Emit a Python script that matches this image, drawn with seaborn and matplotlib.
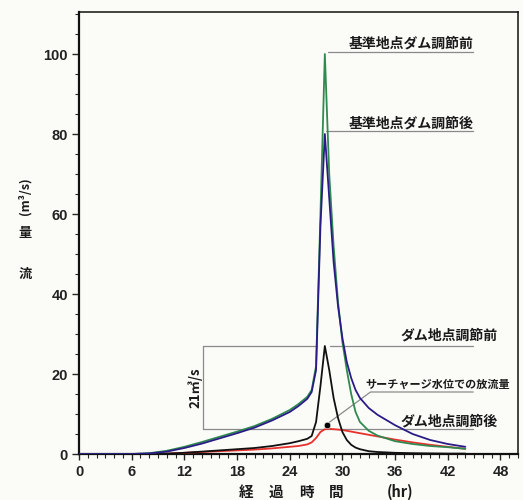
import matplotlib
matplotlib.use("Agg")
import matplotlib.pyplot as plt
import seaborn as sns
import pandas as pd
import numpy as np

# ---- data ----
hours = [0, 6, 8, 10, 12, 14, 16, 18, 20, 22, 24, 25, 26, 26.5, 27, 27.5, 28,
         28.5, 29, 29.5, 30, 30.5, 31, 31.5, 32, 33, 34, 36, 38, 40, 42, 44]

base_before = [0, 0, 0.2, 0.8, 1.8, 3.0, 4.3, 5.6, 7.0, 8.8, 11.0, 12.5, 14.3, 16, 22, 60, 100,
               70, 52, 38, 28, 21, 15, 10.5, 8.0, 5.8, 4.6, 3.2, 2.5, 2.0, 1.7, 1.3]
base_after = [0, 0, 0.15, 0.6, 1.5, 2.6, 3.9, 5.2, 6.6, 8.4, 10.5, 12.0, 13.8, 15.5, 21, 57, 80,
              64, 48, 37, 29, 23, 19, 16, 14, 11.5, 9.8, 7.2, 5.0, 3.5, 2.5, 1.8]
dam_before = [0, 0, 0, 0.1, 0.3, 0.6, 0.9, 1.2, 1.5, 2.0, 2.7, 3.2, 3.8, 4.5, 8, 17, 27,
              21, 14, 9, 5.5, 3.5, 2.3, 1.6, 1.2, 0.7, 0.5, 0.3, 0.2, 0.15, 0.1, 0.1]
dam_after = [0, 0, 0, 0.1, 0.3, 0.5, 0.7, 0.9, 1.1, 1.4, 1.8, 2.0, 2.4, 2.9, 4.0, 5.5, 6.2,
             6.3, 6.2, 6.1, 6.0, 5.8, 5.6, 5.4, 5.2, 4.8, 4.4, 3.6, 2.9, 2.3, 1.8, 1.3]

series_names = ["ダム地点調節後", "ダム地点調節前", "基準地点ダム調節前", "基準地点ダム調節後"]
series_values = [dam_after, dam_before, base_before, base_after]
series_colors = ["#e8302c", "#111111", "#2f8a4f", "#2a1c86"]

surcharge_time = [28.2]
surcharge_flow = [7.3]

x_ticks = [0, 6, 12, 18, 24, 30, 36, 42, 48]
y_ticks = [0, 20, 40, 60, 80, 100]

# ---- figure ----
sns.set_theme(style="white")
cjk = ["Noto Sans CJK JP", "DejaVu Sans"]
plt.rcParams["font.family"] = cjk

W, H = 523, 500
fig = plt.figure(figsize=(W / 100, H / 100), dpi=100)
fig.patch.set_facecolor("#fbfbf8")
ax = fig.add_axes([79 / W, 1 - 454 / H, (518 - 79) / W, (454 - 12) / H])
ax.set_facecolor("#fbfbf8")

rows = []
for name, vals in zip(series_names, series_values):
    for t, q in zip(hours, vals):
        rows.append({"time": t, "flow": q, "series": name})
df = pd.DataFrame(rows)

sns.lineplot(data=df, x="time", y="flow", hue="series", hue_order=series_names,
             palette=dict(zip(series_names, series_colors)), estimator=None,
             sort=False, linewidth=1.3, legend=False, ax=ax, zorder=3)

sns.scatterplot(x=surcharge_time, y=surcharge_flow, color="black", s=22, ax=ax,
                zorder=4, legend=False)

ax.set_xlim(0, 50)
ax.set_ylim(0, 110.5)
ax.set_xticks(x_ticks)
ax.set_xticks(np.arange(0, 51, 1), minor=True)
ax.set_yticks(y_ticks)
ax.set_yticks(np.arange(0, 111, 5), minor=True)
ax.tick_params(axis="y", which="major", direction="out", length=5, width=1, left=True, pad=3)
ax.tick_params(axis="y", which="minor", direction="out", length=3, width=0.8, left=True)
ax.tick_params(axis="x", which="major", direction="out", length=4, width=1, bottom=True, pad=4)
ax.tick_params(axis="x", which="minor", direction="out", length=3, width=0.8, bottom=True)
for lab in ax.get_xticklabels() + ax.get_yticklabels():
    lab.set_fontfamily(["Liberation Sans", "DejaVu Sans"])
    lab.set_fontweight("bold")
    lab.set_fontsize(10.5)
    lab.set_color("#222222")
ax.set_xlabel("")
ax.set_ylabel("")
for side, sp in ax.spines.items():
    sp.set_color("#111111")
    sp.set_linewidth(1.6 if side in ("left", "bottom") else 1.1)

# ---- annotation lines ----
gray = "#8a8a8a"
lw = 0.9
ax.plot([28.4, 44.9], [100.5, 100.5], color=gray, lw=lw, zorder=2)
ax.plot([28.1, 44.9], [80.7, 80.7], color=gray, lw=lw, zorder=2)
ax.plot([14.1, 27.1], [27, 27], color=gray, lw=lw, zorder=2)
ax.plot([28.6, 44.9], [27, 27], color=gray, lw=lw, zorder=2)
ax.plot([14.1, 44.9], [6.2, 6.2], color=gray, lw=lw, zorder=2)
ax.plot([14.1, 14.1], [6.2, 27], color=gray, lw=lw, zorder=2)
ax.plot([28.5, 33.2, 44.9], [7.9, 15.5, 15.5], color=gray, lw=lw, zorder=2)

tkw = dict(fontweight="bold", color="#1a1a1a", family=cjk)
ax.text(44.9, 102.7, "基準地点ダム調節前", ha="right", va="center", fontsize=10, **tkw)
ax.text(44.9, 82.7, "基準地点ダム調節後", ha="right", va="center", fontsize=10, **tkw)
ax.text(47.7, 29.6, "ダム地点調節前", ha="right", va="center", fontsize=10, **tkw)
ax.text(49.1, 17.4, "サーチャージ水位での放流量", ha="right", va="center", fontsize=8, **tkw)
ax.text(47.7, 8.1, "ダム地点調節後", ha="right", va="center", fontsize=10, **tkw)
ax.text(13.2, 16.6, "21㎥/s", ha="center", va="center", rotation=90, fontsize=9.5, **tkw)

# ---- axis titles ----
fig.text(25 / W, 1 - 274 / H, "流", ha="center", va="center", fontsize=9.5, **tkw)
fig.text(25 / W, 1 - 233 / H, "量", ha="center", va="center", fontsize=9.5, **tkw)
fig.text(25 / W, 1 - 196 / H, "(m³/s)", ha="center", va="center", rotation=90, fontsize=9, **tkw)
for ch, xp in zip(["経", "過", "時", "間"], [246, 276, 306, 336]):
    fig.text(xp / W, 1 - 492 / H, ch, ha="center", va="center", fontsize=10.5, **tkw)
fig.text(400 / W, 1 - 492 / H, "(hr)", ha="center", va="center", fontsize=10.5, **tkw)

fig.savefig("out.png", dpi=100, facecolor=fig.get_facecolor())
